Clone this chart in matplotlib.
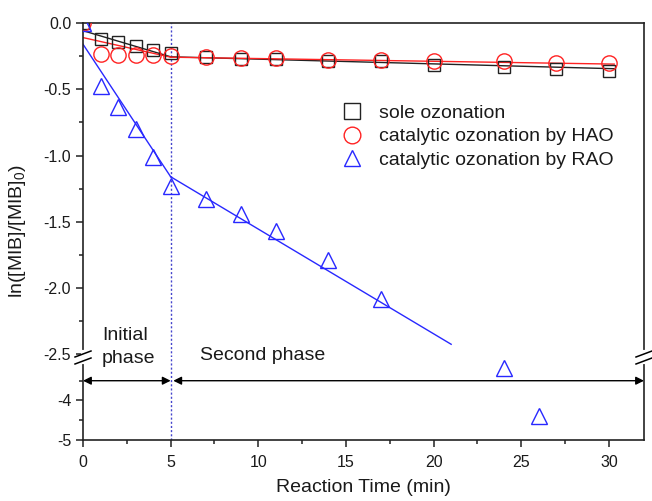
import numpy as np
import matplotlib
matplotlib.use("Agg")
import matplotlib.pyplot as plt
from matplotlib.lines import Line2D

plt.rcParams['font.family'] = ['Liberation Sans', 'DejaVu Sans']
plt.rcParams['mathtext.fontset'] = 'custom'
plt.rcParams['mathtext.rm'] = 'Liberation Sans'

# reaction time (min)
t_sole = [0, 1, 2, 3, 4, 5, 7, 9, 11, 14, 17, 20, 24, 27, 30]
y_sole = [0.0, -0.12, -0.14, -0.17, -0.20, -0.23, -0.26, -0.27, -0.27, -0.285, -0.29,
          -0.317, -0.33, -0.347, -0.36]

t_hao = [0, 1, 2, 3, 4, 5, 7, 9, 11, 14, 17, 20, 24, 27, 30]
y_hao = [0.0, -0.235, -0.24, -0.24, -0.245, -0.25, -0.26, -0.267, -0.267, -0.277, -0.28,
         -0.285, -0.29, -0.30, -0.305]

t_rao = [0, 1, 2, 3, 4, 5, 7, 9, 11, 14, 17, 24, 26]
y_rao = [0.0, -0.475, -0.63, -0.80, -1.01, -1.23, -1.33, -1.44, -1.57, -1.79, -2.08,
         -3.17, -4.39]

# linear fits: (t_start, t_end, intercept at t_start, slope)
fit_sole = [(0, 5, -0.058, -0.0394), (5, 30.3, -0.255, -0.00356)]
fit_hao = [(0, 5, -0.11, -0.0296), (5, 30.3, -0.258, -0.00206)]
fit_rao = [(0, 5, -0.16, -0.20), (5, 21, -1.16, -0.079)]

legend_labels = ['sole ozonation', 'catalytic ozonation by HAO', 'catalytic ozonation by RAO']

BLACK = '#222222'
RED = '#ff2222'
BLUE = '#2828ff'
TXT = '#1a1a1a'

W, H = 652, 501
fig = plt.figure(figsize=(W / 100, H / 100), dpi=100)

x0, x1 = 83, 644
y_top, y_split, y_bot = 23, 357, 440
ax_up = fig.add_axes([x0 / W, 1 - y_split / H, (x1 - x0) / W, (y_split - y_top) / H])
ax_lo = fig.add_axes([x0 / W, 1 - y_bot / H, (x1 - x0) / W, (y_bot - y_split) / H])


def draw_fit(ax, segs, color):
    for ts, te, b, m in segs:
        tt = np.array([ts, te])
        ax.plot(tt, b + m * (tt - ts), color=color, lw=1.0, zorder=2)


for ax in (ax_up, ax_lo):
    draw_fit(ax, fit_sole, BLACK)
    draw_fit(ax, fit_hao, RED)
    draw_fit(ax, fit_rao, BLUE)
    ax.plot(t_sole, y_sole, 's', ms=8.5, mfc='none', mec=BLACK, mew=1.0, zorder=3)
    ax.plot(t_hao, y_hao, 'o', ms=11, mfc='none', mec=RED, mew=1.0, zorder=4)
    ax.plot(t_rao, y_rao, '^', ms=12, mfc='none', mec=BLUE, mew=1.0, zorder=5)
    ax.axvline(5, color='#4444cc', ls=(0, (1.5, 1.5)), lw=1.0, zorder=1)
    ax.set_xlim(0, 32)
    for s in ax.spines.values():
        s.set_linewidth(1.2)
        s.set_color(BLACK)
    ax.tick_params(which='both', direction='out', labelsize=11.5, width=1.1,
                   colors=BLACK, labelcolor=TXT)
    ax.tick_params(which='major', length=5)
    ax.tick_params(which='minor', length=3)
    ax.tick_params(axis='y', pad=3.5)
    ax.tick_params(axis='x', pad=6)

ax_up.set_ylim(-2.52, 0)
ax_up.set_yticks([0, -0.5, -1.0, -1.5, -2.0, -2.5])
ax_up.set_yticklabels(['0.0', '-0.5', '-1.0', '-1.5', '-2.0', '-2.5'])
ax_up.set_yticks([-0.25, -0.75, -1.25, -1.75, -2.25], minor=True)
ax_up.spines['bottom'].set_visible(False)
ax_up.set_xticks([])
ax_up.tick_params(axis='x', which='both', bottom=False, labelbottom=False)

ax_lo.set_ylim(-5, -2.9)
ax_lo.set_yticks([-4, -5])
ax_lo.set_yticklabels(['-4', '-5'])
ax_lo.set_yticks([-3.5, -4.5], minor=True)
ax_lo.spines['top'].set_visible(False)
ax_lo.set_xticks([0, 5, 10, 15, 20, 25, 30])
ax_lo.set_xticks([2.5, 7.5, 12.5, 17.5, 22.5, 27.5], minor=True)

# phase arrows
ax_lo.annotate('', xy=(0, -3.5), xytext=(5, -3.5),
               arrowprops=dict(arrowstyle='<|-|>', color='black', lw=1.0,
                               mutation_scale=12, shrinkA=0, shrinkB=0))
ax_lo.annotate('', xy=(5.15, -3.5), xytext=(32, -3.5),
               arrowprops=dict(arrowstyle='<|-|>', color='black', lw=1.0,
                               mutation_scale=12, shrinkA=0, shrinkB=0))

fig.text(102 / W, 1 - 347 / H, 'Initial\nphase', fontsize=14, ha='left', va='center',
         linespacing=1.4, color=TXT)
fig.text(200 / W, 1 - 355 / H, 'Second phase', fontsize=14, ha='left', va='center',
         color=TXT)

# axis break marks
for xs in (x0, x1):
    fig.add_artist(Line2D([xs / W, xs / W], [1 - 352 / H, 1 - 362 / H], color='white',
                          lw=3, transform=fig.transFigure, zorder=10))
    for dy in (0, 7):
        fig.add_artist(Line2D([(xs - 8) / W, (xs + 8) / W],
                              [1 - (357 + dy) / H, 1 - (351 + dy) / H],
                              color='black', lw=1.1, transform=fig.transFigure, zorder=11))

fig.text(18 / W, 1 - 231 / H, r'ln([MIB]/[MIB]$_0$)', fontsize=14, rotation=90,
         ha='center', va='center', color=TXT)
fig.text((x0 + x1) / 2 / W, 1 - 488 / H, 'Reaction Time (min)', fontsize=14,
         ha='center', va='center', color=TXT)

handles = [
    Line2D([], [], ls='none', marker='s', ms=11, mfc='none', mec=BLACK, mew=1.0),
    Line2D([], [], ls='none', marker='o', ms=12, mfc='none', mec=RED, mew=1.0),
    Line2D([], [], ls='none', marker='^', ms=12, mfc='none', mec=BLUE, mew=1.0),
]
fig.legend(handles, legend_labels, loc='upper left', bbox_to_anchor=(342 / W, 1 - 104 / H),
           frameon=False, fontsize=14, handlelength=1.0, handletextpad=0.9,
           labelspacing=0.32, borderpad=0, borderaxespad=0, labelcolor=TXT)

fig.savefig('out.png', dpi=100)
